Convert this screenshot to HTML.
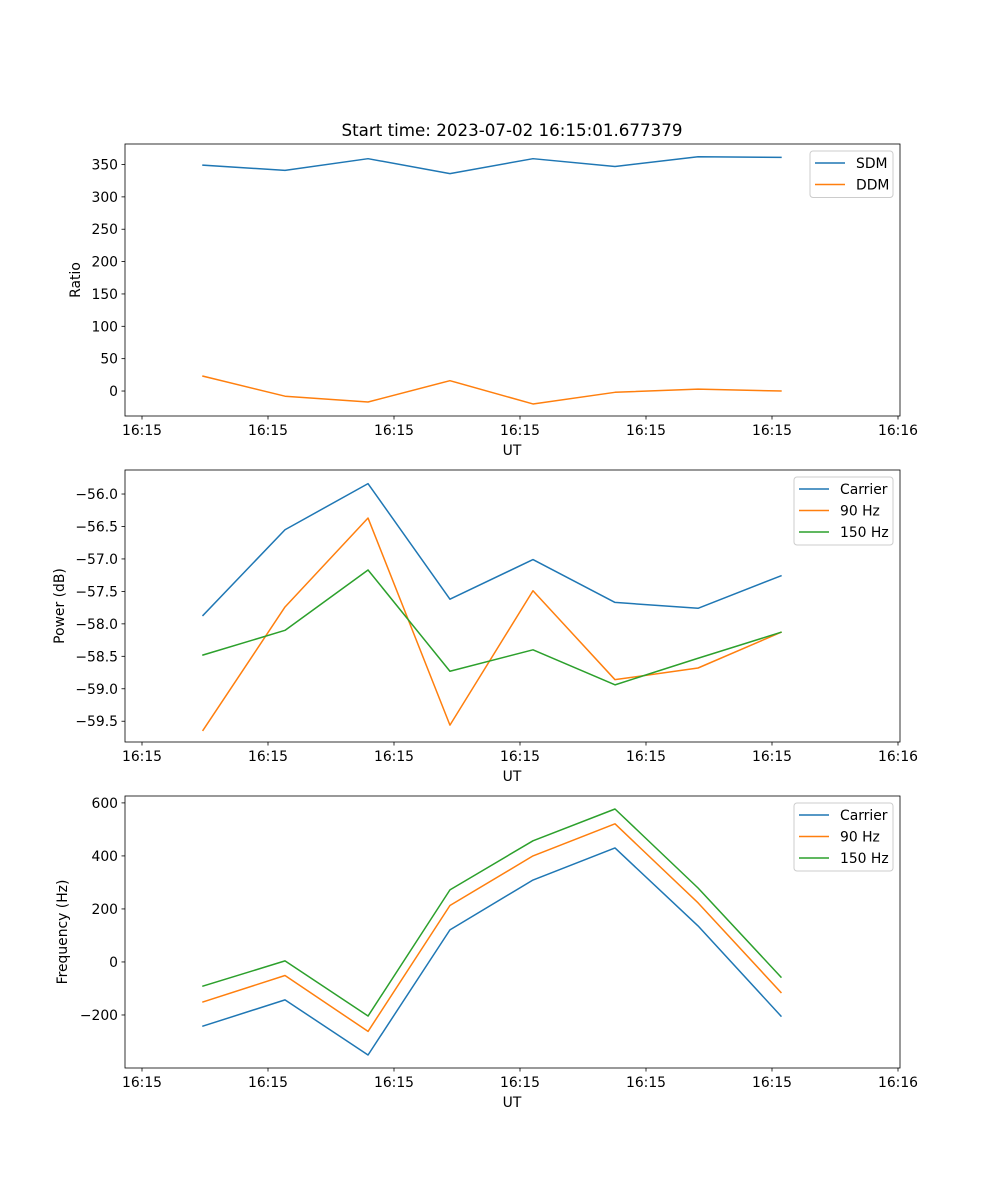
<!DOCTYPE html>
<html><head><meta charset="utf-8"><style>
html,body{margin:0;padding:0;background:#fff;}
svg{display:block;font-family:"DejaVu Sans","Liberation Sans",sans-serif;}
</style></head><body>
<svg id="fig" width="1000" height="1200" xmlns="http://www.w3.org/2000/svg">
<text x="512" y="136" font-size="16.7" text-anchor="middle">Start time: 2023-07-02 16:15:01.677379</text>
</svg>
<script>
// shared x data (tick units)
const xTickLabels = ["16:15","16:15","16:15","16:15","16:15","16:15","16:16"];
const times = [0.484,1.135,1.794,2.444,3.103,3.754,4.413,5.071];
// panel 1
const ratioTicks = [0,50,100,150,200,250,300,350];
const sdm = [349,341,359,336,359,347,362,361];
const ddm = [23,-8,-17,16,-20,-2,3,0];
// panel 2
const powerTicks = [-59.5,-59.0,-58.5,-58.0,-57.5,-57.0,-56.5,-56.0];
const powerCarrier = [-57.87,-56.55,-55.84,-57.62,-57.01,-57.67,-57.76,-57.26];
const power90 = [-59.64,-57.74,-56.37,-59.56,-57.49,-58.86,-58.68,-58.13];
const power150 = [-58.48,-58.10,-57.17,-58.73,-58.40,-58.94,-58.53,-58.13];
// panel 3
const freqTicks = [-200,0,200,400,600];
const freqCarrier = [-242,-143,-351,121,309,430,136,-204];
const freq90 = [-151,-51,-262,213,400,521,223,-115];
const freq150 = [-91,4,-204,272,457,577,279,-57];

const NS="http://www.w3.org/2000/svg";
const svg=document.getElementById('fig');
const C={blue:"#1f77b4",orange:"#ff7f0e",green:"#2ca02c"};
function mk(tag,attrs,parent){const e=document.createElementNS(NS,tag);for(const k in attrs)e.setAttribute(k,attrs[k]);(parent||svg).appendChild(e);return e;}
const L=125,R=900;
const xScale=t=>142+126*t;

function panel(p){
  const g=mk('g',{});
  
  
  const yS=v=>p.top+(p.ymax-v)/(p.ymax-p.ymin)*(p.bot-p.top);
  p.series.forEach(s=>{
    const d=s.vals.map((v,i)=>(i?'L':'M')+xScale(times[i]).toFixed(2)+','+yS(v).toFixed(2)).join('');
    const path=mk('path',{d:d,fill:'none',stroke:s.color,'stroke-width':1.5,'stroke-linejoin':'round','stroke-linecap':'square'},g);
    
    
  });
  const fr=mk('rect',{x:L,y:p.top,width:R-L,height:p.bot-p.top,fill:'none',stroke:'#000','stroke-width':0.8},g);
  
  
  xTickLabels.forEach((lab,i)=>{
    const x=xScale(i);
    mk('line',{x1:x,x2:x,y1:p.bot,y2:p.bot+3.5,stroke:'#000','stroke-width':0.8},g);
    const t=mk('text',{x:x,y:p.bot+19,'font-size':13.9,'text-anchor':'middle'},g);
    t.textContent=lab;
    
    
  });
  const xt=mk('text',{x:512,y:p.bot+39,'font-size':13.9,'text-anchor':'middle'},g);
  xt.textContent='UT';
  
  
  p.ticks.forEach(v=>{
    const y=yS(v);
    mk('line',{x1:L,x2:L-3.5,y1:y,y2:y,stroke:'#000','stroke-width':0.8},g);
    const t=mk('text',{x:L-7,y:y+5,'font-size':13.9,'text-anchor':'end'},g);
    t.textContent=p.fmt(v);
    
    
  });
  const cy=(p.top+p.bot)/2;
  const yt=mk('text',{x:p.ylx,y:cy,'font-size':13.9,'text-anchor':'middle',transform:'rotate(-90 '+p.ylx+' '+cy+')'},g);
  yt.textContent=p.ylabel;
  
  
  const lg=mk('g',{},g);
  
  
  const n=p.series.length;
  mk('rect',{x:p.lx,y:p.top+7,width:893-p.lx,height:n*21.5+3.5,rx:3,fill:'#fff','fill-opacity':0.8,stroke:'#ccc','stroke-width':1},lg);
  p.series.forEach((s,i)=>{
    const y=p.top+19+i*21.5;
    mk('line',{x1:p.lx+5,x2:p.lx+35,y1:y,y2:y,stroke:s.color,'stroke-width':1.5},lg);
    const t=mk('text',{x:p.lx+46,y:y+5,'font-size':13.9},lg);
    t.textContent=s.label;
    
    
  });
}
panel({name:'ratio-panel',top:144,bot:416,ymin:-38.6,ymax:381.7,ticks:ratioTicks,fmt:v=>String(v),ylabel:'Ratio',ylx:80,lx:810,
  series:[{id:'sdm',label:'SDM',vals:sdm,color:C.blue},{id:'ddm',label:'DDM',vals:ddm,color:C.orange}]});
panel({name:'power-panel',top:470,bot:742,ymin:-59.82,ymax:-55.63,ticks:powerTicks,fmt:v=>'\u2212'+Math.abs(v).toFixed(1),ylabel:'Power (dB)',ylx:64,lx:794,
  series:[{id:'power-carrier',label:'Carrier',vals:powerCarrier,color:C.blue},{id:'power-90hz',label:'90 Hz',vals:power90,color:C.orange},{id:'power-150hz',label:'150 Hz',vals:power150,color:C.green}]});
panel({name:'frequency-panel',top:796,bot:1068,ymin:-400,ymax:626,ticks:freqTicks,fmt:v=>v<0?'\u2212'+Math.abs(v):String(v),ylabel:'Frequency (Hz)',ylx:67,lx:794,
  series:[{id:'freq-carrier',label:'Carrier',vals:freqCarrier,color:C.blue},{id:'freq-90hz',label:'90 Hz',vals:freq90,color:C.orange},{id:'freq-150hz',label:'150 Hz',vals:freq150,color:C.green}]});
</script>
</body></html>
